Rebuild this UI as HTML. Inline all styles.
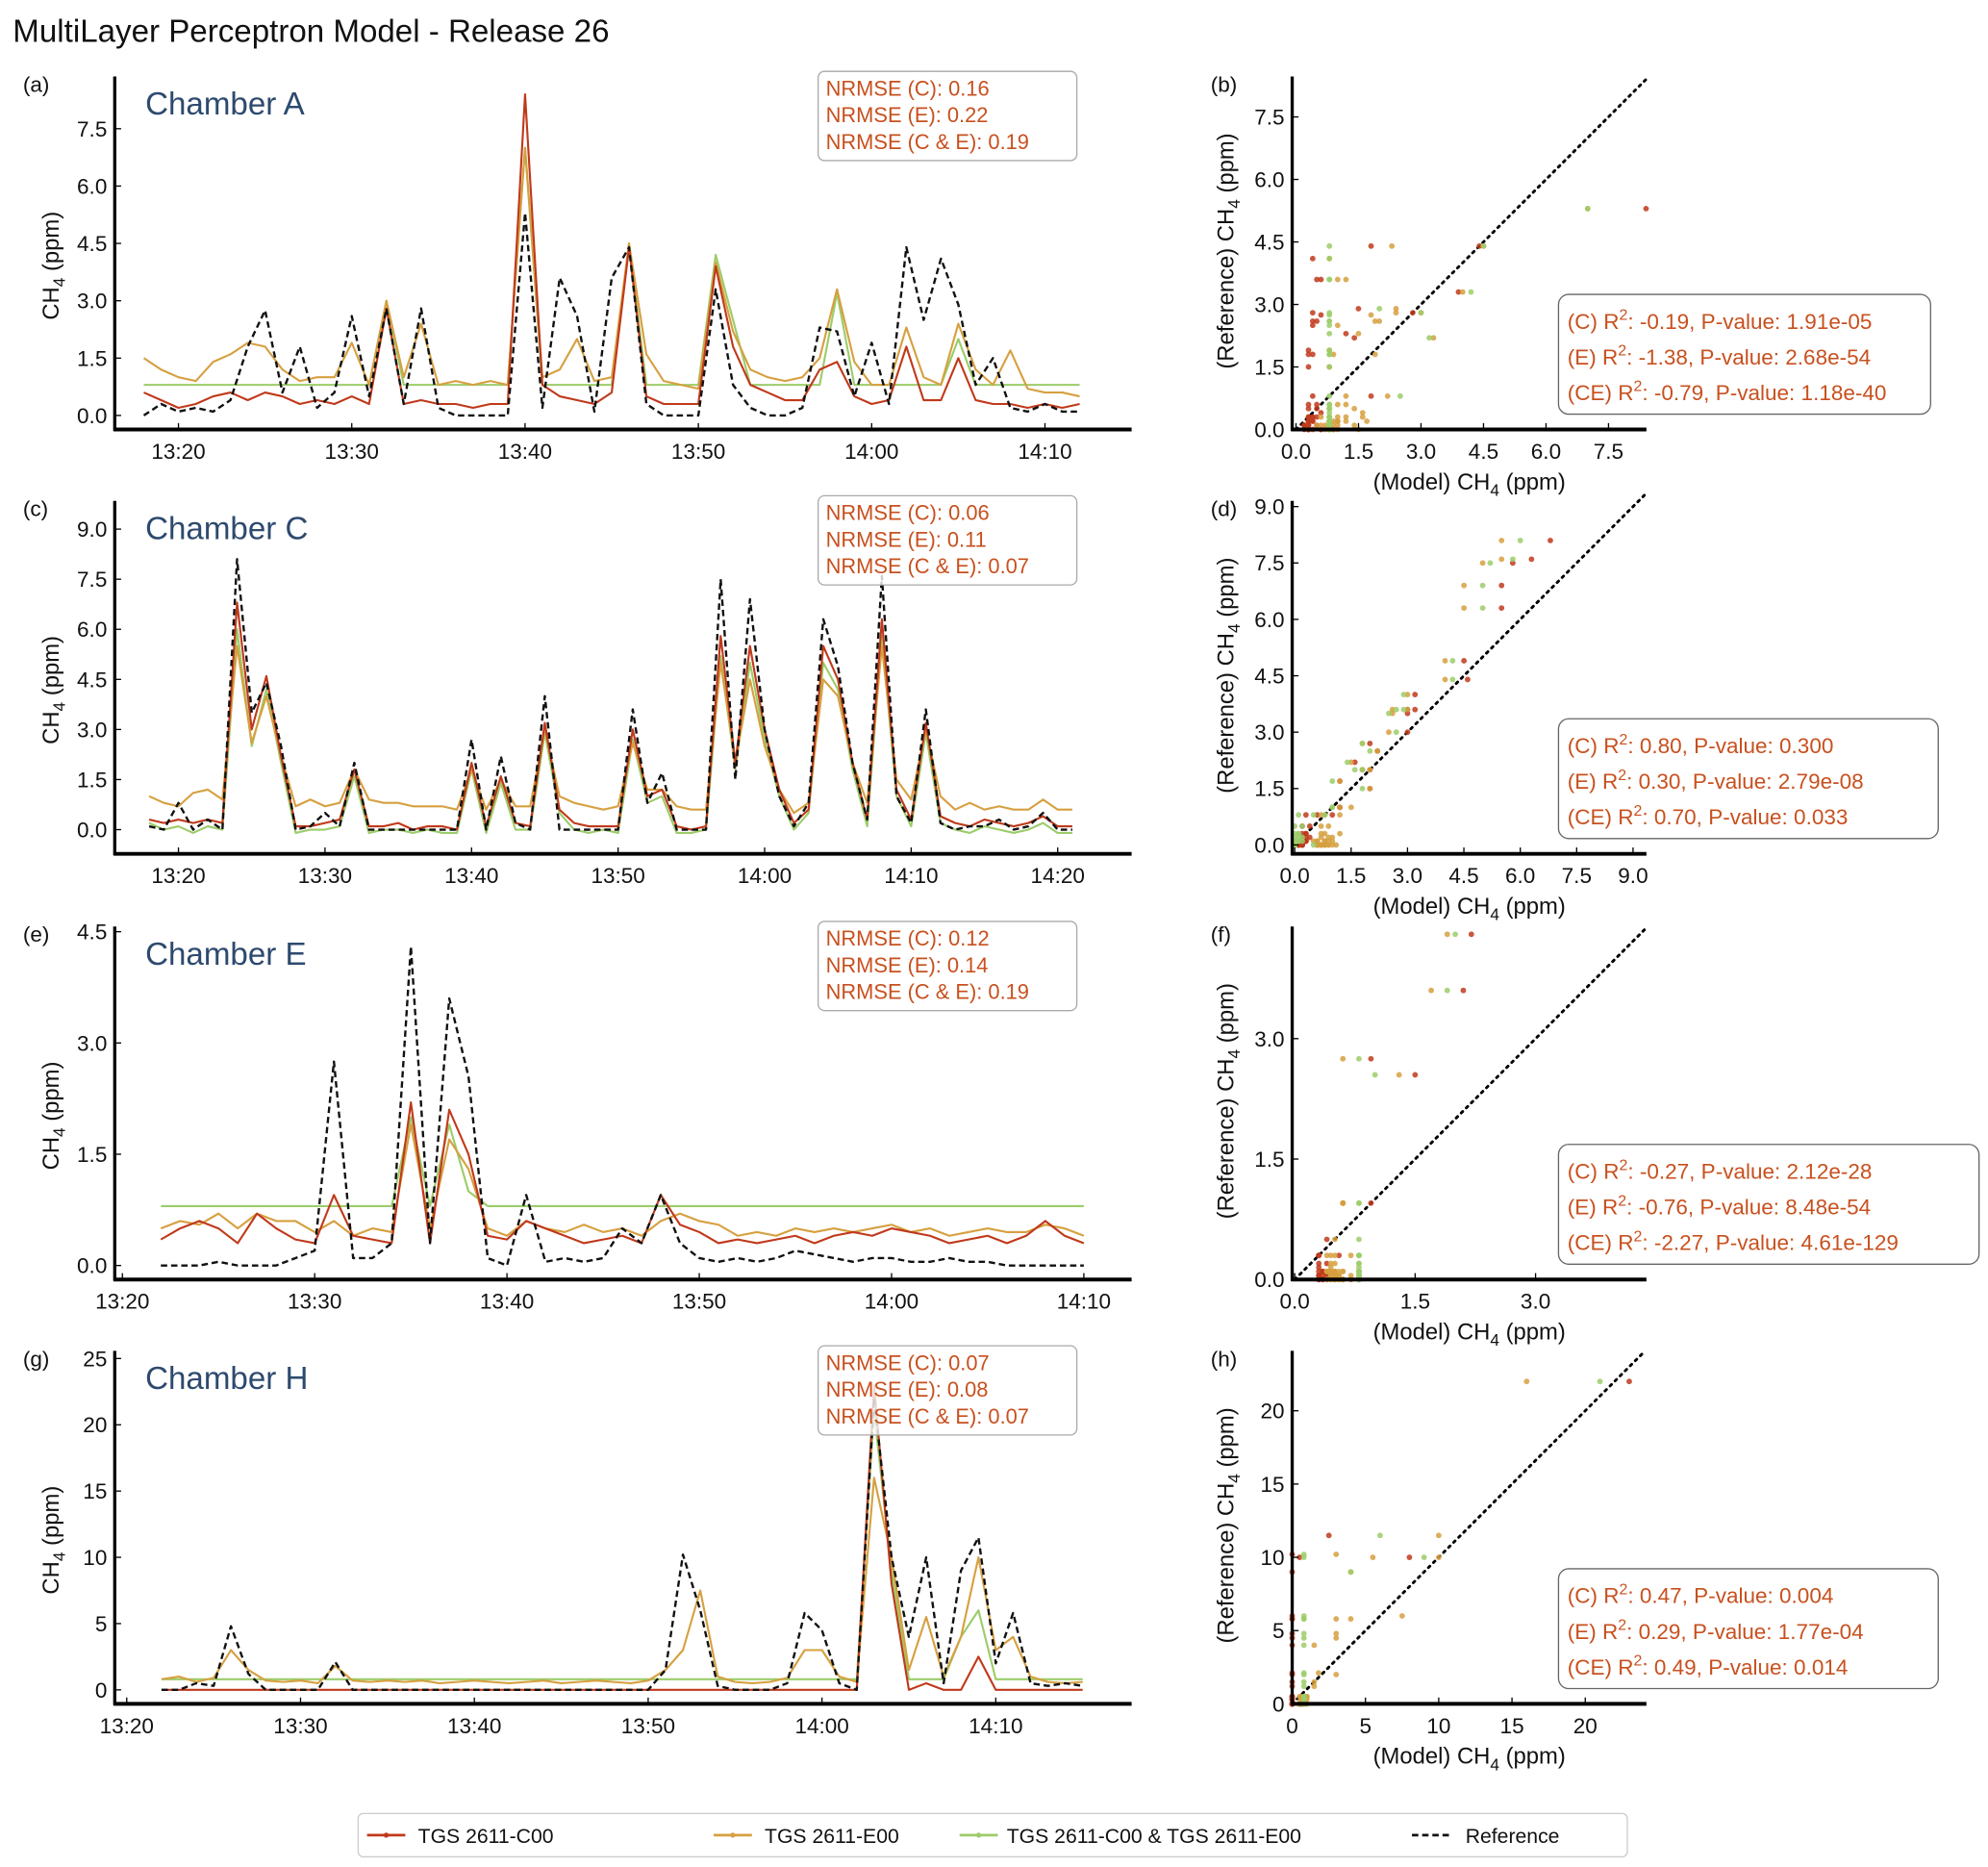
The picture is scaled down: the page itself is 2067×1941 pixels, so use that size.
<!DOCTYPE html>
<html><head><meta charset="utf-8"><style>
html,body{margin:0;padding:0;background:#fff;}
svg{display:block;font-family:"Liberation Sans",sans-serif;}
</style></head><body>
<svg id="fig" width="2067" height="1941" viewBox="0 0 1560 1465" xmlns="http://www.w3.org/2000/svg">
<rect width="1560" height="1465" fill="#fff"/>
<text x="10" y="33" font-size="25" fill="#111">MultiLayer Perceptron Model - Release 26</text>
<g id="layer"></g>
<g>
<rect x="281" y="1423" width="996" height="34" rx="4" fill="#fff" stroke="#ccc" stroke-width="1"/>
<g><line x1="288" y1="1440" x2="318" y2="1440" stroke="#c0391b" stroke-width="2"/><circle cx="303" cy="1440" r="2" fill="#c0391b"/><text x="328" y="1446" font-size="16" fill="#111">TGS 2611-C00</text></g>
<g><line x1="560" y1="1440" x2="590" y2="1440" stroke="#d6a040" stroke-width="2"/><circle cx="575" cy="1440" r="2" fill="#d6a040"/><text x="600" y="1446" font-size="16" fill="#111">TGS 2611-E00</text></g>
<g><line x1="753" y1="1440" x2="783" y2="1440" stroke="#9ccc6a" stroke-width="2"/><circle cx="768" cy="1440" r="2" fill="#9ccc6a"/><text x="790" y="1446" font-size="16" fill="#111">TGS 2611-C00 &amp; TGS 2611-E00</text></g>
<g><line x1="1108" y1="1440" x2="1138" y2="1440" stroke="#111" stroke-width="2" stroke-dasharray="5,3"/><text x="1150" y="1446" font-size="16" fill="#111">Reference</text></g>
</g>
</svg>
<script>
// ---- data: values per minute ----
const refA=[0,0.3,0.1,0.2,0.1,0.4,1.8,2.75,0.6,1.8,0.2,0.6,2.6,0.5,2.8,0.3,2.8,0.2,0,0,0,0,5.3,0.2,3.6,2.6,0.1,3.6,4.4,0.3,0,0,0,3.3,0.8,0.2,0,0,0.2,2.3,2.2,0.5,1.9,0.3,4.4,2.5,4.1,2.9,0.8,1.5,0.2,0.1,0.3,0.1,0.1];
const cA=[0.6,0.4,0.2,0.3,0.5,0.6,0.4,0.6,0.5,0.3,0.4,0.3,0.5,0.3,2.8,0.3,0.4,0.3,0.3,0.2,0.3,0.3,8.4,0.8,0.5,0.4,0.3,0.6,4.4,0.5,0.3,0.3,0.3,3.9,1.8,0.8,0.6,0.4,0.4,1.2,1.4,0.5,0.3,0.4,1.8,0.4,0.4,1.5,0.4,0.3,0.3,0.2,0.3,0.2,0.3];
const eA=[1.5,1.2,1.0,0.9,1.4,1.6,1.9,1.8,1.2,0.9,1.0,1.0,1.9,0.8,3.0,1.0,2.4,0.8,0.9,0.8,0.9,0.8,7.0,1.0,1.2,2.0,0.9,1.0,4.5,1.6,0.9,0.8,0.7,4.0,2.2,1.2,1.0,0.9,1.0,1.5,3.3,1.4,0.8,0.8,2.3,1.0,0.8,2.4,1.2,0.8,1.7,0.7,0.6,0.6,0.5];
const ceA=[0.8,0.8,0.8,0.8,0.8,0.8,0.8,0.8,0.8,0.8,0.8,0.8,0.8,0.8,3.0,0.8,0.8,0.8,0.8,0.8,0.8,0.8,7.0,0.8,0.8,0.8,0.8,0.8,4.5,0.8,0.8,0.8,0.8,4.2,2.5,0.8,0.8,0.8,0.8,0.8,3.2,0.8,0.8,0.8,0.8,0.8,0.8,2.0,0.8,0.8,0.8,0.8,0.8,0.8,0.8];

const refC=[0.1,0,0.8,0,0.3,0,8.1,3.5,4.4,2.5,0,0.1,0.5,0.1,2.0,0,0,0,0,0,0,0,2.7,0,2.2,0.2,0,4.0,0,0,0,0,0,3.6,0.8,1.7,0,0,0,7.5,1.5,6.9,3.0,1.0,0.1,0.8,6.3,4.9,2.0,0.3,7.6,1.0,0.2,3.6,0.2,0,0.1,0.1,0.3,0,0.1,0.5,0,0];
const cC=[0.3,0.2,0.3,0.2,0.3,0.2,6.8,3.0,4.6,2.2,0.1,0.1,0.2,0.3,1.8,0.1,0.1,0.2,0,0.1,0.1,0,2.0,0.1,1.6,0.2,0.1,3.2,0.6,0.2,0.1,0.1,0.1,3.0,1.0,1.2,0.1,0,0.1,5.8,2.0,5.5,3.0,1.2,0.2,0.6,5.5,4.5,2.0,0.3,6.3,1.2,0.3,3.2,0.4,0.2,0.1,0.3,0.2,0.1,0.2,0.4,0.1,0.1];
const eC=[1.0,0.8,0.7,1.1,1.2,0.9,5.5,2.6,4.0,2.2,0.7,0.9,0.7,0.8,1.8,0.9,0.8,0.8,0.7,0.7,0.7,0.6,1.8,0.6,1.5,0.7,0.7,3.0,1.0,0.8,0.7,0.6,0.7,2.6,1.2,1.2,0.7,0.6,0.6,5.0,2.0,4.5,2.5,1.2,0.5,0.8,4.5,4.0,2.0,0.8,5.5,1.5,0.9,3.0,1.0,0.6,0.8,0.6,0.7,0.6,0.6,0.9,0.6,0.6];
const ceC=[0.2,0,0.1,-0.1,0.1,0,6.0,2.5,4.2,2.0,-0.1,0,0,0.1,1.6,-0.1,0,0,-0.1,0,-0.1,-0.1,1.8,-0.1,1.4,0,0,2.9,0.5,0,-0.1,0,-0.1,2.7,0.8,1.0,-0.1,-0.1,0,5.2,1.8,5.0,2.7,1.0,0,0.5,5.0,4.2,1.8,0.1,5.8,1.0,0.1,2.9,0.2,0,-0.1,0.1,0,-0.1,0,0.2,-0.1,-0.1];

const refE=[0,0,0,0.05,0,0,0,0.1,0.2,2.75,0.1,0.1,0.3,4.3,0.3,3.6,2.55,0.1,0,0.95,0.05,0.1,0.05,0.1,0.5,0.3,0.95,0.3,0.1,0.05,0.1,0.05,0.1,0.2,0.15,0.1,0.05,0.1,0.1,0.05,0.05,0.1,0.05,0.05,0,0,0,0,0];
const cE=[0.35,0.5,0.6,0.5,0.3,0.7,0.5,0.35,0.3,0.95,0.4,0.35,0.3,2.2,0.3,2.1,1.5,0.4,0.35,0.6,0.5,0.4,0.3,0.35,0.4,0.3,0.95,0.55,0.45,0.3,0.35,0.3,0.35,0.4,0.3,0.4,0.45,0.4,0.5,0.45,0.4,0.3,0.35,0.4,0.3,0.4,0.6,0.4,0.3];
const eE=[0.5,0.6,0.55,0.7,0.5,0.7,0.6,0.6,0.45,0.6,0.4,0.5,0.45,1.9,0.5,1.7,1.3,0.5,0.4,0.6,0.5,0.45,0.55,0.45,0.5,0.4,0.6,0.7,0.6,0.55,0.4,0.45,0.4,0.5,0.45,0.5,0.45,0.5,0.55,0.45,0.5,0.4,0.45,0.5,0.45,0.45,0.55,0.5,0.4];
const ceE=[0.8,0.8,0.8,0.8,0.8,0.8,0.8,0.8,0.8,0.8,0.8,0.8,0.8,2.0,0.8,1.9,1.0,0.8,0.8,0.8,0.8,0.8,0.8,0.8,0.8,0.8,0.8,0.8,0.8,0.8,0.8,0.8,0.8,0.8,0.8,0.8,0.8,0.8,0.8,0.8,0.8,0.8,0.8,0.8,0.8,0.8,0.8,0.8,0.8];

const refG=[0,0,0.5,0.3,4.8,1.2,0,0,0,0,2.1,0, 0,0,0,0,0,0,0,0,0,0,0,0,0,0,0,0,0, 1.5,10.2,6.0,0.3,0,0,0,0.5,5.8, 4.5,0.5,0,22,10,4,10,0.5,9,11.5,2.0,5.8,0.5,0.3,0.5,0.3];
const cG=[0,0,0,0,0,0,0,0,0,0,0,0, 0,0,0,0,0,0,0,0,0,0,0,0,0,0,0,0,0, 0,0,0,0,0,0,0,0,0, 0,0,0,23,8,0,0.5,0,0,2.5,0,0,0,0,0,0];
const eG=[0.8,1.0,0.6,0.9,3.0,1.5,0.7,0.6,0.7,0.5,1.8,0.7, 0.6,0.7,0.6,0.7,0.5,0.6,0.7,0.6,0.5,0.6,0.7,0.5,0.6,0.7,0.6,0.5,0.7, 1.5,3.0,7.5,1.0,0.6,0.5,0.6,0.9,3.0, 3.0,1.0,0.6,16,10,1.5,5.5,1.0,4.0,10.0,3.0,4.0,1.0,0.6,0.5,0.6];
const ceG=[0.8,0.8,0.8,0.8,0.8,0.8,0.8,0.8,0.8,0.8,0.8,0.8, 0.8,0.8,0.8,0.8,0.8,0.8,0.8,0.8,0.8,0.8,0.8,0.8,0.8,0.8,0.8,0.8,0.8, 0.8,0.8,0.8,0.8,0.8,0.8,0.8,0.8,0.8, 0.8,0.8,0.8,21,9,0.8,0.8,0.8,4,6,0.8,0.8,0.8,0.8,0.8,0.8];

const ticksA=["0.0","1.5","3.0","4.5","6.0","7.5"];
const ticksC=["0.0","1.5","3.0","4.5","6.0","7.5","9.0"];
const ticksE=["0.0","1.5","3.0","4.5"];
const ticksG=["0","5","10","15","20","25"];
const timeLabelsA=["13:20","13:30","13:40","13:50","14:00","14:10"];
const timeLabelsC=["13:20","13:30","13:40","13:50","14:00","14:10","14:20"];
const scatTicksB=["0.0","1.5","3.0","4.5","6.0","7.5"];
const scatTicksD=["0.0","1.5","3.0","4.5","6.0","7.5","9.0"];
const scatTicksF=["0.0","1.5","3.0"];
const scatTicksH=["0","5","10","15","20"];
const nrmseA=["0.16","0.22","0.19"], nrmseC=["0.06","0.11","0.07"], nrmseE=["0.12","0.14","0.19"], nrmseG=["0.07","0.08","0.07"];
const statsB=[["C","-0.19","1.91e-05"],["E","-1.38","2.68e-54"],["CE","-0.79","1.18e-40"]];
const statsD=[["C","0.80","0.300"],["E","0.30","2.79e-08"],["CE","0.70","0.033"]];
const statsF=[["C","-0.27","2.12e-28"],["E","-0.76","8.48e-54"],["CE","-2.27","4.61e-129"]];
const statsH=[["C","0.47","0.004"],["E","0.29","1.77e-04"],["CE","0.49","0.014"]];

const NS="http://www.w3.org/2000/svg";
const layer=document.getElementById('layer');
const COL={c:"#c0391b",e:"#d6a040",ce:"#9ccc6a"};
function mk(tag,attrs,parent){const el=document.createElementNS(NS,tag);for(const k in attrs)el.setAttribute(k,attrs[k]);(parent||layer).appendChild(el);return el;}
function txt(s,attrs,parent){const t=mk('text',attrs,parent);t.textContent=s;return t;}

function tsPanel(o){
  const g=mk('g',{});
  
  
  const X=m=>o.x20+(m-20)*o.ppm, Y=v=>o.y0-v*o.ppu;
  const ser=[[o.ce,COL.ce,'series-c00-e00',null],[o.e,COL.e,'series-e00',null],[o.c,COL.c,'series-c00',null],[o.ref,'#111','series-reference','5,3']];
  ser.forEach(s=>{
    const d=s[0].map((v,i)=>(i?'L':'M')+X(o.t0+i).toFixed(1)+' '+Y(v).toFixed(1)).join(' ');
    const p=mk('path',{d:d,fill:'none',stroke:s[1],'stroke-width':s[3]?1.8:1.6,'stroke-linejoin':'round'},g);
    if(s[3])p.setAttribute('stroke-dasharray',s[3]);
    
    
  });
  mk('line',{x1:90,y1:o.top,x2:90,y2:o.bot+1,stroke:'#000','stroke-width':2.5},g);
  mk('line',{x1:89,y1:o.bot,x2:888,y2:o.bot,stroke:'#000','stroke-width':3},g);
  o.yt.forEach((s,i)=>{const y=Y(parseFloat(s));mk('line',{x1:90,y1:y,x2:95,y2:y,stroke:'#000','stroke-width':1},g);
    const t=txt(s,{x:84,y:y+6,'font-size':17,'text-anchor':'end',fill:'#111'},g);
    
    });
  o.xt.forEach((s,i)=>{const x=X(20+i*10);mk('line',{x1:x,y1:o.bot,x2:x,y2:o.bot-5,stroke:'#000','stroke-width':1},g);
    const t=txt(s,{x:x,y:o.bot+23,'font-size':17,'text-anchor':'middle',fill:'#111'},g);
    
    });
  const yl=txt('',{transform:`translate(46 ${(o.top+o.bot)/2+10}) rotate(-90)`,'font-size':18,'text-anchor':'middle',fill:'#111'},g);
  yl.innerHTML='CH<tspan font-size="13" dy="5">4</tspan><tspan dy="-5"> (ppm)</tspan>';
  
  
  const pl=txt(o.label,{x:18,y:o.top+12,'font-size':17,fill:'#111'},g);
  
  
  const ch=txt(o.chamber,{x:114,y:o.top+30,'font-size':25,fill:'#2d4a6e'},g);
  
  
  const bx=mk('rect',{x:642,y:o.top-4,width:203,height:70,rx:5,fill:'#fff','fill-opacity':0.8,stroke:'#aaa','stroke-width':1},g);
  
  
  ['C','E','C &amp; E'].forEach((k,i)=>{const t=txt('',{x:648,y:o.top+15+i*21,'font-size':16.5,fill:'#c8501e'},g);t.innerHTML=`NRMSE (${k}): ${o.nr[i]}`;
    
    });
}

function scPanel(o){
  const g=mk('g',{});
  
  
  const X=v=>o.x0+v*o.s, Y=v=>o.y0-v*o.s, mx=276/o.s;
  mk('line',{x1:X(0),y1:Y(0),x2:X(mx),y2:Y(mx),stroke:'#000','stroke-width':2.2,'stroke-dasharray':'1.6,4','stroke-linecap':'round'},g);
  [[o.c,COL.c],[o.e,COL.e],[o.ce,COL.ce]].forEach(s=>{
    s[0].forEach((v,i)=>{const r=o.ref[i];if(v>mx+0.3||r>mx+0.3)return;
      const c=mk('circle',{cx:X(Math.max(v,0)).toFixed(1),cy:Y(Math.max(r,0)).toFixed(1),r:2.2,fill:s[1],'fill-opacity':0.85},g);
      
      });
  });
  mk('line',{x1:1014,y1:o.bot-277,x2:1014,y2:o.bot+1,stroke:'#000','stroke-width':2.5},g);
  mk('line',{x1:1013,y1:o.bot,x2:1292,y2:o.bot,stroke:'#000','stroke-width':3},g);
  o.ticks.forEach(s=>{const v=parseFloat(s);
    mk('line',{x1:X(v),y1:o.bot,x2:X(v),y2:o.bot-5,stroke:'#000','stroke-width':1},g);
    const a=txt(s,{x:X(v),y:o.bot+23,'font-size':17,'text-anchor':'middle',fill:'#111'},g);
    
    
    mk('line',{x1:1014,y1:Y(v),x2:1019,y2:Y(v),stroke:'#000','stroke-width':1},g);
    const b=txt(s,{x:1008,y:Y(v)+6,'font-size':17,'text-anchor':'end',fill:'#111'},g);
    
    });
  const xl=txt('',{x:1153,y:o.bot+47,'font-size':18,'text-anchor':'middle',fill:'#111'},g);
  xl.innerHTML='(Model) CH<tspan font-size="13" dy="5">4</tspan><tspan dy="-5"> (ppm)</tspan>';
  
  
  const yl=txt('',{transform:`translate(968 ${o.bot-140}) rotate(-90)`,'font-size':18,'text-anchor':'middle',fill:'#111'},g);
  yl.innerHTML='(Reference) CH<tspan font-size="13" dy="5">4</tspan><tspan dy="-5"> (ppm)</tspan>';
  
  
  const pl=txt(o.label,{x:950,y:o.bot-265,'font-size':17,fill:'#111'},g);
  
  
  const by=o.bot-106;
  const bx=mk('rect',{x:1223,y:by,width:o.bw,height:94,rx:8,fill:'#fff','fill-opacity':0.85,stroke:'#666','stroke-width':1},g);
  
  
  o.stats.forEach((r,i)=>{const t=txt('',{x:1230,y:by+27+i*28,'font-size':17,fill:'#c8501e'},g);
    t.innerHTML=`(${r[0]}) R<tspan font-size="12" dy="-7">2</tspan><tspan dy="7">: ${r[1]}, P-value: ${r[2]}</tspan>`;
    
    });
}

tsPanel({name:'panel-a-chamber-a',label:'(a)',chamber:'Chamber A',t0:18,x20:140,ppm:13.6,y0:326,ppu:30,top:60,bot:337,ref:refA,c:cA,e:eA,ce:ceA,yt:ticksA,xt:timeLabelsA,nr:nrmseA});
tsPanel({name:'panel-c-chamber-c',label:'(c)',chamber:'Chamber C',t0:18,x20:140,ppm:11.5,y0:651,ppu:26.2,top:393,bot:670,ref:refC,c:cC,e:eC,ce:ceC,yt:ticksC,xt:timeLabelsC,nr:nrmseC});
tsPanel({name:'panel-e-chamber-e',label:'(e)',chamber:'Chamber E',t0:22,x20:96,ppm:15.09,y0:993,ppu:58.2,top:727,bot:1004,ref:refE,c:cE,e:eE,ce:ceE,yt:ticksE,xt:timeLabelsA,nr:nrmseE});
tsPanel({name:'panel-g-chamber-h',label:'(g)',chamber:'Chamber H',t0:22,x20:99.4,ppm:13.64,y0:1326,ppu:10.4,top:1060,bot:1337,ref:refG,c:cG,e:eG,ce:ceG,yt:ticksG,xt:timeLabelsA,nr:nrmseG});

scPanel({name:'panel-b-scatter-a',label:'(b)',x0:1017,y0:337,s:32.7,bot:337,ref:refA,c:cA,e:eA,ce:ceA,ticks:scatTicksB,stats:statsB,bw:292});
scPanel({name:'panel-d-scatter-c',label:'(d)',x0:1016,y0:663,s:29.5,bot:670,ref:refC,c:cC,e:eC,ce:ceC,ticks:scatTicksD,stats:statsD,bw:298});
scPanel({name:'panel-f-scatter-e',label:'(f)',x0:1016,y0:1004,s:63,bot:1004,ref:refE,c:cE,e:eE,ce:ceE,ticks:scatTicksF,stats:statsF,bw:330});
scPanel({name:'panel-h-scatter-h',label:'(h)',x0:1014,y0:1337,s:11.5,bot:1337,ref:refG,c:cG,e:eG,ce:ceG,ticks:scatTicksH,stats:statsH,bw:298});
</script>
</body></html>
